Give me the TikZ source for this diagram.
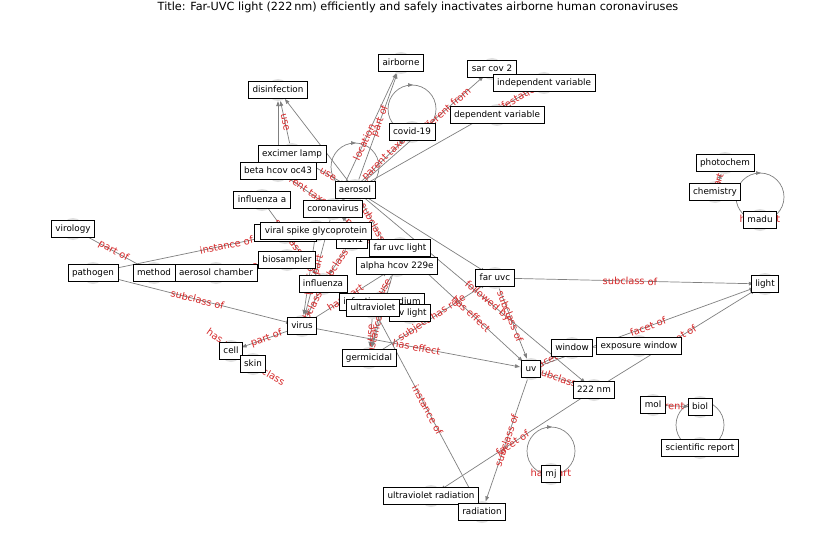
\documentclass[tikz,border=0pt]{standalone}
\usepackage{fontspec}
\setmainfont{DejaVu Sans}
\usetikzlibrary{arrows.meta}
\definecolor{lblred}{RGB}{214,39,40}
\definecolor{edgegray}{RGB}{128,128,128}
\definecolor{dotgray}{RGB}{224,224,224}
\begin{document}
\begin{tikzpicture}[x=1pt,y=-1pt,
  dot/.style={circle, fill=dotgray, minimum size=22pt, inner sep=0pt},
  box/.style={draw=black, fill=white, line width=0.8pt, font=\fontsize{8.8}{10}\selectfont, inner xsep=4pt, inner ysep=4pt, text height=6.6pt, text depth=1.8pt},
  edge/.style={draw=edgegray, line width=0.7pt, -{Triangle[length=5pt,width=3.6pt]}},
  loopline/.style={draw=edgegray, line width=0.7pt},
  lbl/.style={font=\fontsize{9.8}{10}\selectfont, text=lblred, sloped, inner sep=0pt},
  freelbl/.style={font=\fontsize{9.8}{10}\selectfont, text=lblred, inner sep=0pt}]
\fill[white] (0,0) rectangle (837,559);
\useasboundingbox (0,0) rectangle (837,559);

\node[font=\fontsize{11.25}{12}\selectfont] (title) at (418,7) {Title: Far-UVC light (222\,nm) efficiently and safely inactivates airborne human coronaviruses};

% node markers
\foreach \n/\x/\y in {airborne/401/63, sarcov/492/69, indep/544/83, dep/497/115, disinf/278/90, covid/412/132, excimer/292/154, beta/278/171, aerosol/355/190, infa/262/200, corona/333/209, hid/285/233, spike/316/231, hnone/352/240, fuvcl/400/248, virology/73/229, pathogen/93/273, method/154/273, achamber/216/273, biosamp/287/260, alpha/397/266, influenza/323/284, fuvc/495/278, light/765/284, photochem/725/163, chem/715/192, madu/760/220, medium/382/302, uvlight/410/313, ultra/373/308, virus/302/326, cell/231/351, skin/253/364, germ/369/358, window/572/348, expwin/639/346, uv/531/369, nm/594/390, mol/653/405, biol/700/407, sci/700/448, mj/551/474, uvrad/431/496, rad/482/512}
  \node[dot] (c-\n) at (\x,\y) {};

% self loops
\foreach \n in {aerosol, covid, madu, sci, mj}{
  \draw[loopline] (c-\n.center) ++(0,-23) circle (24pt);
  \draw[edge] (c-\n.center) ++(-3,-47) -- ++(4,0);
}
\foreach \n in {covid, madu, sci, mj}
  \node[freelbl] at (c-\n.center) {has part};

% edges
\foreach \a/\b/\l/\p in {
  excimer/disinf/use/0.5, beta/disinf//0.5, aerosol/disinf//0.5,
  aerosol/airborne/part of/0.55, corona/airborne/location/0.45,
  excimer/aerosol/use/0.6, corona/covid/parent taxon/0.72,
  corona/sarcov/different from/0.72, aerosol/indep/manifestation of/0.89,
  beta/corona/parent taxon/0.5, infa/influenza/subclass of/0.5,
  hnone/influenza/subclass of/0.5, influenza/virus/subclass of/0.5,
  spike/virus/part of/0.5, corona/virus/has part/0.58,
  alpha/corona/parent taxon/0.4, aerosol/alpha/subclass of/0.5,
  alpha/ultra/use/0.5, ultra/germ/use/0.5, medium/germ/instance of/0.5,
  fuvcl/germ//0.5, virology/method/part of/0.5,
  pathogen/hid/instance of/0.72, pathogen/virus/subclass of/0.5,
  virus/cell/part of/0.5, virus/uv/has effect/0.5, virus/alpha/has part/0.45,
  germ/fuvc/subject has role/0.5, fuvcl/uv/has effect/0.55,
  aerosol/nm/followed by/0.56, aerosol/fuvc//0.5,
  fuvc/uv/subclass of/0.4, fuvc/light/subclass of/0.5,
  uv/window/facet of/0.5, uv/nm/subclass of/0.5, window/expwin//0.5,
  uv/light/facet of/0.5, nm/light/facet of/0.5, uv/rad/subclass of/0.5,
  nm/uvrad/facet of/0.5, ultra/rad/instance of/0.5,
  mol/biol/different from/0.5, chem/photochem/part of/0.5,
  achamber/biosamp/tool/0.5}
  \draw[edge] (c-\a) -- node[lbl, pos=\p] {\l} (c-\b);

\node[freelbl, rotate=-35] (fl1) at (224,343) {has part};
\node[freelbl, rotate=-30] (fl2) at (266,372) {subclass};

% boxes
\foreach \n/\x/\y/\t in {airborne/401/63/airborne, sarcov/492/69/sar cov 2, indep/544/83/independent variable, dep/497/115/dependent variable, disinf/278/90/disinfection, covid/412/132/covid-19, excimer/292/154/excimer lamp, beta/278/171/beta hcov oc43, aerosol/355/190/aerosol, infa/262/200/influenza a, corona/333/209/coronavirus, hnone/352/240/h1n1, fuvcl/400/248/far uvc light, virology/73/229/virology, pathogen/93/273/pathogen, method/154/273/method, achamber/216/273/aerosol chamber, biosamp/287/260/biosampler, alpha/397/266/alpha hcov 229e, influenza/323/284/influenza, fuvc/495/278/far uvc, light/765/284/light, photochem/725/163/photochem, chem/715/192/chemistry, madu/760/220/madu, medium/382/302/infection medium, uvlight/410/313/uv light, virus/302/326/virus, cell/231/351/cell, skin/253/364/skin, germ/369/358/germicidal, window/572/348/window, expwin/639/346/exposure window, uv/531/369/uv, nm/594/390/222 nm, mol/653/405/mol, biol/700/407/biol, sci/700/448/scientific report, mj/551/474/mj, uvrad/431/496/ultraviolet radiation, rad/482/512/radiation}
  \node[box] (\n) at (\x,\y) {\t};
\node[box, minimum width=62pt] (hid) at (285,233) {};
\node[box] (spike) at (316,231) {viral spike glycoprotein};
\node[box] (ultra) at (373,308) {ultraviolet};
\end{tikzpicture}
\end{document}
